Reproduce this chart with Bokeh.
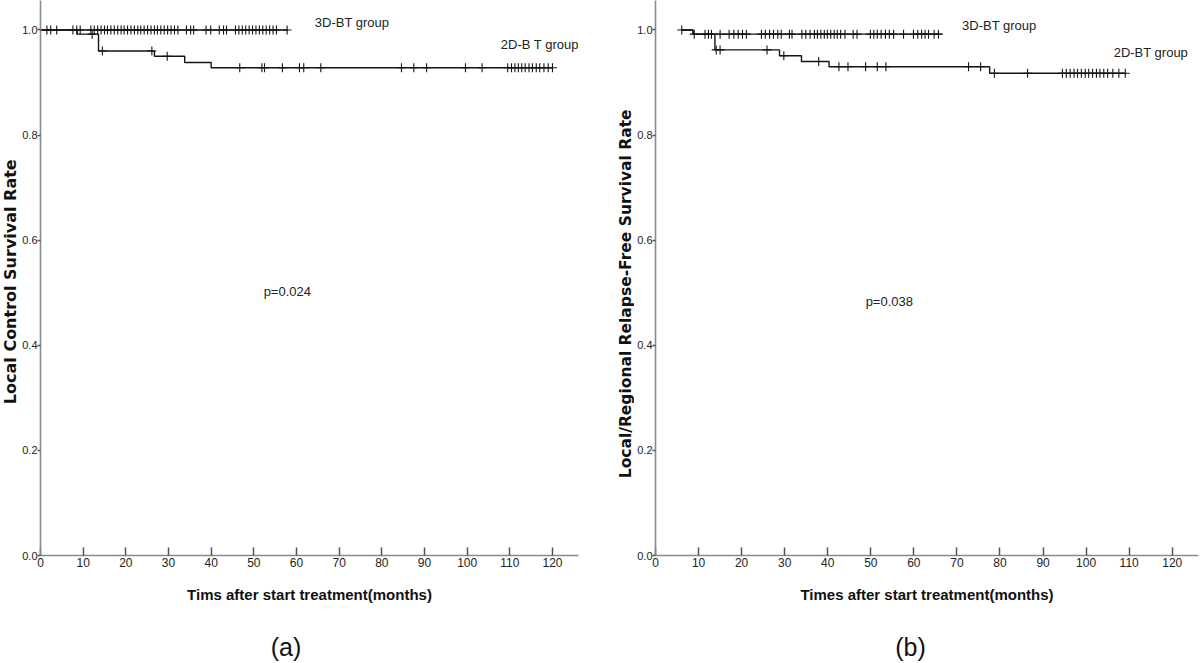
import math
from bokeh.plotting import figure
from bokeh.layouts import row, column
from bokeh.models import Label, FixedTicker, Range1d
from bokeh.embed import file_html
from bokeh.resources import INLINE

# ---------------- data ----------------
# Panel (a): Local control
a_2d_time = [0, 8.6, 13.6, 26.7, 33.8, 40.0, 120.0]
a_2d_surv = [1.0, 0.992, 0.960, 0.950, 0.938, 0.928, 0.928]
a_2d_censor = [12.1, 14.5, 26.1, 29.7, 46.7, 51.9, 52.5, 56.7, 60.7, 61.7, 65.7,
               84.6, 87.5, 90.5, 99.6, 103.5, 109.5, 110.4, 111.2, 112.0, 112.8,
               113.6, 114.5, 115.3, 116.2, 117.0, 118.0, 119.0, 120.0]
a_3d_time = [0, 58.0]
a_3d_surv = [1.0, 1.0]
a_3d_censor = [1.5, 2.4, 3.8, 7.6, 8.5, 9.3, 11.8, 12.6, 13.4, 14.2, 15.0, 15.7,
               16.5, 17.3, 18.1, 18.9, 19.6, 20.4, 21.2, 22.0, 22.8, 23.5, 24.3,
               25.1, 25.9, 26.7, 27.4, 28.2, 29.0, 29.8, 30.6, 31.4, 32.2, 34.2,
               35.2, 35.9, 38.8, 39.9, 41.9, 42.9, 43.6, 45.7, 46.5, 47.3, 48.1,
               48.9, 49.7, 50.5, 51.3, 52.1, 52.9, 53.7, 54.5, 55.3, 57.8]

# Panel (b): Local/regional relapse-free
b_2d_time = [6.1, 8.7, 13.8, 28.8, 33.9, 40.3, 77.6, 109.1]
b_2d_surv = [1.0, 0.992, 0.962, 0.951, 0.940, 0.930, 0.9175, 0.9175]
b_2d_censor = [14.1, 15.0, 25.9, 29.8, 37.9, 42.6, 44.7, 48.8, 51.5, 53.5, 72.7,
               75.5, 78.7, 86.4, 94.5, 95.4, 96.3, 97.2, 98.0, 98.9, 99.8, 100.6,
               101.5, 102.4, 103.2, 104.1, 105.0, 106.2, 107.6, 109.1]
b_3d_time = [6.1, 8.7, 66.4]
b_3d_surv = [1.0, 0.992, 0.992]
b_3d_censor = [6.1, 9.0, 11.5, 12.3, 13.0, 15.0, 17.1, 18.2, 19.2, 20.2, 21.1,
               24.6, 25.5, 26.5, 27.4, 28.4, 29.2, 31.1, 31.7, 34.0, 34.9, 35.9,
               36.9, 37.6, 38.4, 39.2, 39.9, 40.7, 41.5, 42.2, 43.0, 44.0, 45.9,
               46.8, 49.9, 50.7, 51.5, 52.4, 53.4, 54.3, 55.3, 57.6, 59.9, 60.9,
               61.8, 62.6, 63.4, 64.7, 65.7]

x_ticks = [0, 10, 20, 30, 40, 50, 60, 70, 80, 90, 100, 110, 120]
y_ticks = [0.0, 0.2, 0.4, 0.6, 0.8, 1.0]

SANS = "Liberation Sans"
INK = "#151515"
TOP_H = 630
TAG_H = 33
Y_END = 1.056


def surv_at(times, surv, t):
    v = surv[0]
    for ti, si in zip(times, surv):
        if ti <= t:
            v = si
    return v


def blank(width, height, y_end):
    f = figure(width=width, height=height, output_backend="svg", toolbar_location=None,
               x_range=Range1d(0, width), y_range=Range1d(0, y_end), min_border=0,
               x_axis_location=None, y_axis_location=None)
    f.outline_line_color = None
    f.grid.visible = False
    return f


def ylabel_fig(width, text, size, y_start):
    # frame is aligned with the neighbouring panel's frame, so share its y scale
    f = blank(width, TOP_H, Y_END)
    f.min_border_bottom = 75
    f.add_layout(Label(x=width / 2, y=y_start, text=text, angle=math.pi / 2,
                       text_align="left", text_baseline="middle",
                       text_font="DejaVu Sans", text_font_style="bold",
                       text_font_size=size, text_color="#111111"))
    return f


def tag_fig(width, text, x_center, y_center):
    f = blank(width, TAG_H, TAG_H)
    f.add_layout(Label(x=x_center, y=y_center, text=text, text_align="center",
                       text_baseline="middle", text_font=SANS, text_font_size="25px",
                       text_color="#111111"))
    return f


def make_panel(width, border_left, border_right, x_end, curves, labels, xlabel):
    p = figure(width=width, height=TOP_H, output_backend="svg", toolbar_location=None,
               x_range=Range1d(0, x_end), y_range=Range1d(0, Y_END),
               min_border_left=border_left, min_border_right=border_right,
               min_border_top=0, min_border_bottom=75)
    p.outline_line_color = None
    p.grid.visible = False

    for times, surv, cens in curves:
        p.step(x=times, y=surv, mode="after", line_color=INK, line_width=1.4)
        cy = [surv_at(times, surv, t) for t in cens]
        p.scatter(x=cens, y=cy, marker="cross", size=9, line_color=INK, line_width=1.1)

    for txt, x, y in labels:
        p.add_layout(Label(x=x, y=y, text=txt, text_font=SANS, text_font_size="13px",
                           text_color="#222222", text_baseline="middle", text_align="left"))

    xa = p.xaxis[0]
    xa.ticker = FixedTicker(ticks=x_ticks)
    xa.minor_tick_line_color = None
    xa.major_tick_in = 8
    xa.major_tick_out = 0
    xa.major_tick_line_color = "#555555"
    xa.major_tick_line_width = 1.5
    xa.axis_line_color = "#8a8a8a"
    xa.axis_line_width = 1.6
    xa.major_label_text_font = SANS
    xa.major_label_text_font_size = "12px"
    xa.major_label_text_color = "#222222"
    xa.major_label_standoff = 2
    xa.axis_label = xlabel
    xa.axis_label_text_font = SANS
    xa.axis_label_text_font_style = "bold"
    xa.axis_label_text_font_size = "15px"
    xa.axis_label_text_color = "#111111"
    xa.axis_label_standoff = 16

    ya = p.yaxis[0]
    ya.ticker = FixedTicker(ticks=y_ticks)
    ya.minor_tick_line_color = None
    ya.major_tick_in = 0
    ya.major_tick_out = 3
    ya.major_tick_line_color = "#555555"
    ya.major_tick_line_width = 1.3
    ya.axis_line_color = "#8a8a8a"
    ya.axis_line_width = 1.6
    ya.major_label_text_font = SANS
    ya.major_label_text_font_size = "11px"
    ya.major_label_text_color = "#222222"
    ya.major_label_standoff = 0
    ya.major_label_overrides = {0: "0.0", 0.2: "0.2", 0.4: "0.4", 0.6: "0.6",
                                0.8: "0.8", 1: "1.0"}
    return p


pa = make_panel(
    597, 19, 38, 126.1,
    [(a_2d_time, a_2d_surv, a_2d_censor), (a_3d_time, a_3d_surv, a_3d_censor)],
    [("3D-BT group", 64.3, 1.014), ("2D-B T group", 107.9, 0.973), ("p=0.024", 52.3, 0.503)],
    "Tims after start treatment(months)")

pb = make_panel(
    566, 19, 2, 126.1,
    [(b_2d_time, b_2d_surv, b_2d_censor), (b_3d_time, b_3d_surv, b_3d_censor)],
    [("3D-BT group", 71.2, 1.008), ("2D-BT group", 106.4, 0.958), ("p=0.038", 48.8, 0.484)],
    "Times after start treatment(months)")

la = ylabel_fig(19, "Local Control Survival Rate", "16px", 0.288)
lb = ylabel_fig(18, "Local/Regional Relapse-Free Survival Rate", "15.5px", 0.147)

ta = tag_fig(616, "(a)", 285.5, 17)
tb = tag_fig(584, "(b)", 294, 17)

layout = column(row(la, pa, lb, pb), row(ta, tb))
open("out.html", "w").write(file_html(layout, INLINE))
